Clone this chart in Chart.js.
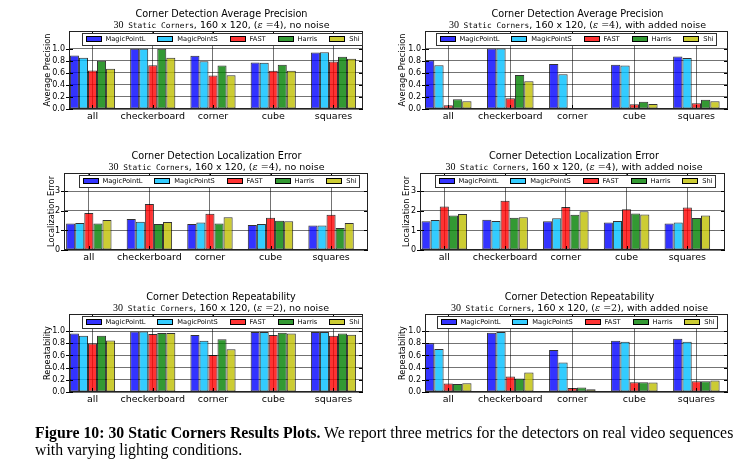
<!DOCTYPE html>
<html><head><meta charset="utf-8">
<script src="https://cdn.jsdelivr.net/npm/chart.js@4"></script>
<style>
html,body{margin:0;padding:0;background:#fff;}
#wrap{position:relative;width:755px;height:466px;overflow:hidden;background:#fff;}
#wrap canvas{position:absolute;left:0;top:0;}
#cap{position:absolute;left:35px;top:425px;font-family:'Liberation Serif','Times New Roman',serif;font-size:15.8px;line-height:16.5px;color:#000;white-space:nowrap;}
</style></head><body>
<div id="wrap">
<canvas id="c0" width="755" height="466"></canvas>
<canvas id="c1" width="755" height="466"></canvas>
<canvas id="c2" width="755" height="466"></canvas>
<canvas id="c3" width="755" height="466"></canvas>
<canvas id="c4" width="755" height="466"></canvas>
<canvas id="c5" width="755" height="466"></canvas>
<div id="cap"><b>Figure 10: 30 Static Corners Results Plots.</b> We report three metrics for the detectors on real video sequences<br>with varying lighting conditions.</div>
</div>
<script>
// ---------- data ----------
const categories = ['all', 'checkerboard', 'corner', 'cube', 'squares'];
const methods = ['MagicPointL', 'MagicPointS', 'FAST', 'Harris', 'Shi'];

// rows follow `methods`, columns follow `categories`
const apClean = [
  [0.885, 0.995, 0.88, 0.77, 0.935],
  [0.846, 0.995, 0.79, 0.765, 0.94],
  [0.637, 0.725, 0.555, 0.632, 0.786],
  [0.797, 0.995, 0.72, 0.73, 0.863],
  [0.665, 0.846, 0.56, 0.632, 0.83]
];
const apNoise = [
  [0.807, 1.0, 0.746, 0.73, 0.867],
  [0.724, 1.0, 0.575, 0.718, 0.845],
  [0.06, 0.177, 0.005, 0.077, 0.094],
  [0.16, 0.564, 0.004, 0.12, 0.155],
  [0.127, 0.459, 0.004, 0.083, 0.127]
];
const locClean = [
  [1.36, 1.585, 1.33, 1.28, 1.26],
  [1.38, 1.45, 1.41, 1.33, 1.26],
  [1.89, 2.35, 1.86, 1.65, 1.81],
  [1.36, 1.33, 1.36, 1.50, 1.12],
  [1.53, 1.43, 1.67, 1.47, 1.38]
];
const locNoise = [
  [1.47, 1.55, 1.47, 1.41, 1.36],
  [1.53, 1.48, 1.62, 1.48, 1.41],
  [2.22, 2.52, 2.20, 2.08, 2.18],
  [1.77, 1.65, 1.81, 1.87, 1.64],
  [1.84, 1.67, 1.98, 1.82, 1.77]
];
const repClean = [
  [0.961, 0.994, 0.934, 0.983, 0.983],
  [0.923, 0.994, 0.84, 0.983, 0.983],
  [0.796, 0.95, 0.608, 0.934, 0.923],
  [0.923, 0.967, 0.867, 0.972, 0.961],
  [0.845, 0.967, 0.70, 0.961, 0.939]
];
const repNoise = [
  [0.80, 0.972, 0.69, 0.84, 0.873],
  [0.707, 0.983, 0.486, 0.823, 0.823],
  [0.138, 0.254, 0.066, 0.16, 0.177],
  [0.133, 0.22, 0.072, 0.16, 0.177],
  [0.144, 0.32, 0.044, 0.155, 0.188]
];
const ticksUnit = [0, 0.2, 0.4, 0.6, 0.8, 1.0];
const ticksLoc = [0, 1, 2, 3];

// ---------- styles / layout ----------
const colors = ['rgba(0,0,255,0.8)', 'rgba(0,191,255,0.8)', 'rgba(255,0,0,0.8)', 'rgba(0,128,0,0.8)', 'rgba(191,191,0,0.8)'];
const FONT = "'DejaVu Sans', 'Bitstream Vera Sans', sans-serif";

const panels = [
  {data: apClean, title: 'Corner Detection Average Precision', ylabel: 'Average Precision', eps: 4, noise: false,
   l: 69, r: 363, t: 31, b: 109, ymax: 1.29, ticks: ticksUnit, fmt: 1, xmin: -0.39, xmax: 4.49, tx: 221.5, lx: 48.2, legL: 82},
  {data: apNoise, title: 'Corner Detection Average Precision', ylabel: 'Average Precision', eps: 4, noise: true,
   l: 425, r: 728, t: 31, b: 109, ymax: 1.29, ticks: ticksUnit, fmt: 1, xmin: -0.375, xmax: 4.51, tx: 577.5, lx: 403, legL: 436},
  {data: locClean, title: 'Corner Detection Localization Error', ylabel: 'Localization Error', eps: 4, noise: false,
   l: 64, r: 368, t: 173, b: 250, ymax: 3.94, ticks: ticksLoc, fmt: 0, xmin: -0.41, xmax: 4.61, tx: 216.5, lx: 51.7, legL: 79},
  {data: locNoise, title: 'Corner Detection Localization Error', ylabel: 'Localization Error', eps: 4, noise: true,
   l: 420, r: 725, t: 173, b: 250, ymax: 3.94, ticks: ticksLoc, fmt: 0, xmin: -0.40, xmax: 4.62, tx: 574, lx: 407, legL: 435},
  {data: repClean, title: 'Corner Detection Repeatability', ylabel: 'Repeatability', eps: 2, noise: false,
   l: 69, r: 363, t: 314, b: 392, ymax: 1.28, ticks: ticksUnit, fmt: 1, xmin: -0.39, xmax: 4.49, tx: 221, lx: 48.2, legL: 82},
  {data: repNoise, title: 'Corner Detection Repeatability', ylabel: 'Repeatability', eps: 2, noise: true,
   l: 425, r: 728, t: 314, b: 392, ymax: 1.28, ticks: ticksUnit, fmt: 1, xmin: -0.375, xmax: 4.51, tx: 579.5, lx: 403, legL: 437}
];

const YLAB_SIZE = 8.2;
const XAXIS_H = 20;

function drawSubtitle(ctx, p, cx, baseY) {
  const segs = [
    ['30', "10px 'Liberation Serif', serif"],
    [' Static Corners', "7.8px 'DejaVu Sans Mono', monospace"],
    [', 160 x 120, (', '9.5px ' + FONT],
    ['\u03b5', "italic 9.5px 'DejaVu Serif', serif"],
    [' =' + p.eps, "9.5px 'DejaVu Serif', serif"],
    [p.noise ? '), with added noise' : '), no noise', '9.5px ' + FONT]
  ];
  let total = 0;
  segs.forEach(s => { ctx.font = s[1]; total += ctx.measureText(s[0]).width; });
  let x = cx - total / 2;
  ctx.textAlign = 'left';
  ctx.textBaseline = 'alphabetic';
  segs.forEach(s => { ctx.font = s[1]; ctx.fillText(s[0], x, baseY); x += ctx.measureText(s[0]).width; });
}

function panelPlugin(p) {
  return {
    id: 'panelDecor',
    afterDatasetsDraw(chart) {
      const ctx = chart.ctx, a = chart.chartArea;
      const xs = chart.scales.x, ys = chart.scales.y;
      ctx.save();
      // tick marks
      ctx.strokeStyle = '#000';
      ctx.lineWidth = 1;
      ctx.beginPath();
      xs.ticks.forEach(t => {
        const x = Math.round(xs.getPixelForValue(t.value)) + 0.5;
        ctx.moveTo(x, a.bottom); ctx.lineTo(x, a.bottom - 4);
        ctx.moveTo(x, a.top); ctx.lineTo(x, a.top + 4);
      });
      ys.ticks.forEach(t => {
        const y = Math.round(ys.getPixelForValue(t.value)) + 0.5;
        ctx.moveTo(a.left - 3, y); ctx.lineTo(a.left + 4, y);
        ctx.moveTo(a.right, y); ctx.lineTo(a.right - 4, y);
      });
      ctx.stroke();
      // frame
      ctx.strokeStyle = '#222';
      ctx.strokeRect(a.left + 0.5, a.top + 0.5, a.right - a.left - 1, a.bottom - a.top - 1);
      // legend
      const boxW = 280, boxH = 12, bx = p.legL + 0.5, by = Math.round(a.top) + 2.5;
      ctx.fillStyle = '#fff';
      ctx.fillRect(bx, by, boxW, boxH);
      ctx.strokeStyle = '#333';
      ctx.strokeRect(bx, by, boxW, boxH);
      ctx.font = '6.7px ' + FONT;
      const widths = methods.map(m => ctx.measureText(m).width);
      const patchW = 15, pad = 5, margin = 3;
      const used = widths.reduce((s, w) => s + w + patchW + pad, 0);
      const gap = (boxW - 2 * margin - used) / (methods.length - 1);
      let x = bx + margin;
      ctx.textBaseline = 'middle';
      ctx.textAlign = 'left';
      methods.forEach((m, i) => {
        const px = Math.round(x) + 0.5;
        ctx.fillStyle = colors[i];
        ctx.fillRect(px, by + 3, patchW, 5);
        ctx.strokeStyle = '#000';
        ctx.strokeRect(px, by + 3, patchW, 5);
        ctx.fillStyle = '#000';
        ctx.fillText(m, x + patchW + pad, by + 6);
        x += patchW + pad + widths[i] + gap;
      });
      // titles
      ctx.fillStyle = '#000';
      ctx.font = '9.7px ' + FONT;
      ctx.textAlign = 'center';
      ctx.textBaseline = 'alphabetic';
      ctx.fillText(p.title, p.tx, a.top - 14);
      drawSubtitle(ctx, p, p.tx, a.top - 3.5);
      ctx.restore();
    }
  };
}

panels.forEach((p, idx) => {
  const yw = p.l - (p.lx - 0.6 * YLAB_SIZE);
  const datasets = methods.map((m, i) => ({
    label: m,
    data: categories.map((c, j) => ({x: j, y: p.data[i][j]})),
    backgroundColor: colors[i],
    borderColor: 'rgba(0,0,0,0.8)',
    borderWidth: 1,
    borderSkipped: false,
    categoryPercentage: 0.75,
    barPercentage: 1.0
  }));
  new Chart(document.getElementById('c' + idx), {
    type: 'bar',
    data: {datasets},
    plugins: [panelPlugin(p)],
    options: {
      responsive: false,
      animation: false,
      events: [],
      layout: {padding: {left: p.l - yw, top: p.t, right: 755 - p.r, bottom: 466 - p.b - XAXIS_H}},
      plugins: {legend: {display: false}, title: {display: false}, tooltip: {enabled: false}},
      scales: {
        x: {
          type: 'linear', min: p.xmin, max: p.xmax, offset: false,
          afterBuildTicks: s => { s.ticks = categories.map((c, j) => ({value: j})); },
          afterFit: s => { s.height = XAXIS_H; },
          grid: {offset: false, drawTicks: false, color: 'rgba(0,0,0,0.55)', lineWidth: 1, borderDash: [1, 2]},
          border: {display: false},
          ticks: {autoSkip: false, maxRotation: 0, padding: 2, color: '#000', font: {family: FONT, size: 9.5},
                  callback: v => categories[v] !== undefined ? categories[v] : ''}
        },
        y: {
          type: 'linear', min: 0, max: p.ymax,
          afterBuildTicks: s => { s.ticks = p.ticks.map(v => ({value: v})); },
          afterFit: s => { s.width = yw; },
          grid: {drawTicks: false, color: 'rgba(0,0,0,0.55)', lineWidth: 1, borderDash: [1, 2]},
          border: {display: false},
          ticks: {padding: 4, color: '#000', font: {family: FONT, size: 8}},
          title: {display: true, text: p.ylabel, color: '#000', padding: 0, font: {family: FONT, size: YLAB_SIZE}}
        }
      }
    }
  });
  // tick label format set after creation to keep options compact
  const ch = Chart.getChart('c' + idx);
  ch.options.scales.y.ticks.callback = v => p.fmt ? Number(v).toFixed(1) : String(v);
  ch.update('none');
});
</script>
</body></html>
